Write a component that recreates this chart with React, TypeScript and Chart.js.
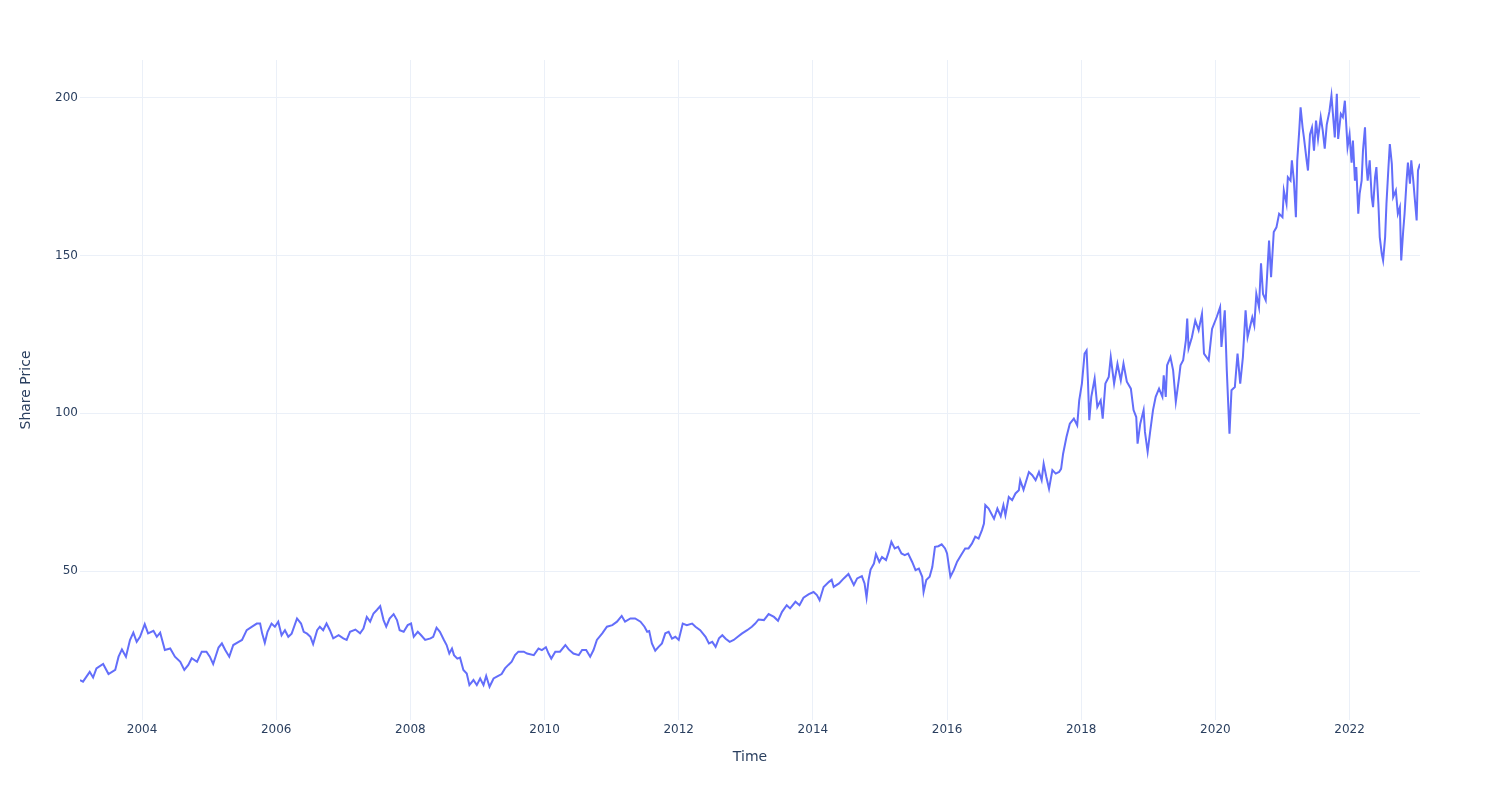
import React, { useEffect, useRef } from "react";
import { Chart, registerables } from "chart.js";

Chart.register(...registerables);

// Decimal-year dates
const years: number[] = [
  2003.075, 2003.12, 2003.22, 2003.27, 2003.32, 2003.42, 2003.50, 2003.60, 2003.65, 2003.70,
  2003.76, 2003.82, 2003.87, 2003.92, 2003.97, 2004.04, 2004.09, 2004.17, 2004.22, 2004.27,
  2004.34, 2004.42, 2004.49, 2004.57, 2004.63, 2004.69, 2004.74, 2004.82, 2004.89, 2004.96,
  2005.01, 2005.06, 2005.14, 2005.19, 2005.24, 2005.30, 2005.36, 2005.44, 2005.49, 2005.56,
  2005.64, 2005.71, 2005.76, 2005.79, 2005.83, 2005.87, 2005.93, 2005.98, 2006.03, 2006.08,
  2006.13, 2006.18, 2006.23, 2006.31, 2006.37,
  2006.41, 2006.46, 2006.51, 2006.55, 2006.61, 2006.65, 2006.70, 2006.75, 2006.80, 2006.85,
  2006.93, 2007.00, 2007.05, 2007.10, 2007.18, 2007.25, 2007.30, 2007.35, 2007.40, 2007.45,
  2007.50, 2007.55, 2007.60, 2007.64, 2007.69, 2007.75, 2007.80, 2007.84, 2007.90, 2007.96,
  2008.01, 2008.05, 2008.11, 2008.16, 2008.22, 2008.30, 2008.34, 2008.39, 2008.44, 2008.50,
  2008.54, 2008.58, 2008.62, 2008.65, 2008.70, 2008.74, 2008.79, 2008.84, 2008.88, 2008.94,
  2008.99, 2009.04, 2009.09, 2009.13, 2009.18, 2009.24, 2009.31, 2009.36, 2009.41, 2009.46,
  2009.51, 2009.56, 2009.61, 2009.69, 2009.74,
  2009.84, 2009.91, 2009.96, 2010.02, 2010.06, 2010.10, 2010.16, 2010.23, 2010.31, 2010.36,
  2010.43, 2010.51, 2010.56, 2010.62, 2010.68, 2010.73, 2010.78, 2010.86, 2010.93, 2011.01,
  2011.08, 2011.15, 2011.20, 2011.28, 2011.35, 2011.43, 2011.49, 2011.53, 2011.56, 2011.60,
  2011.65, 2011.70, 2011.75, 2011.80, 2011.85, 2011.90, 2011.95, 2012.00, 2012.06, 2012.12,
  2012.20, 2012.25, 2012.32, 2012.40, 2012.45, 2012.50, 2012.55, 2012.60, 2012.65, 2012.70,
  2012.76, 2012.82, 2012.88, 2012.94, 2013.02, 2013.09, 2013.14,
  2013.19, 2013.27, 2013.34, 2013.42, 2013.48, 2013.54, 2013.61, 2013.66, 2013.74, 2013.80,
  2013.86, 2013.94, 2014.01, 2014.06, 2014.10, 2014.16, 2014.24, 2014.28, 2014.31, 2014.39,
  2014.46, 2014.53, 2014.61, 2014.66, 2014.73, 2014.77, 2014.80, 2014.83, 2014.86, 2014.91,
  2014.94, 2014.99, 2015.03, 2015.09, 2015.13, 2015.17, 2015.22, 2015.27, 2015.32, 2015.37,
  2015.42, 2015.48, 2015.53, 2015.58, 2015.63, 2015.65, 2015.69, 2015.74, 2015.78, 2015.82,
  2015.87, 2015.92, 2015.97, 2016.00, 2016.05, 2016.10, 2016.15, 2016.21, 2016.27, 2016.32,
  2016.37, 2016.42, 2016.47, 2016.52,
  2016.55, 2016.57, 2016.62, 2016.70, 2016.75, 2016.80, 2016.84, 2016.87, 2016.92, 2016.97,
  2017.02, 2017.07, 2017.09, 2017.14, 2017.22, 2017.27, 2017.32, 2017.37, 2017.41, 2017.44,
  2017.48, 2017.52, 2017.57, 2017.62, 2017.67, 2017.70, 2017.73, 2017.78, 2017.83, 2017.89,
  2017.94, 2017.97, 2018.01, 2018.05, 2018.08, 2018.10, 2018.12, 2018.15, 2018.20, 2018.24,
  2018.29, 2018.32, 2018.36, 2018.41, 2018.44, 2018.49, 2018.54, 2018.59, 2018.63, 2018.68,
  2018.74, 2018.78, 2018.82, 2018.84, 2018.88, 2018.93, 2018.95, 2018.99, 2019.03, 2019.07,
  2019.11, 2019.16, 2019.21, 2019.23, 2019.26, 2019.28, 2019.33, 2019.37, 2019.41, 2019.46,
  2019.48, 2019.52, 2019.56, 2019.58, 2019.60, 2019.65, 2019.70, 2019.75, 2019.80,
  2019.83, 2019.90, 2019.95, 2020.02, 2020.07, 2020.09, 2020.14, 2020.17, 2020.21, 2020.24,
  2020.29, 2020.33, 2020.37, 2020.41, 2020.45, 2020.48, 2020.55, 2020.58, 2020.61, 2020.65,
  2020.68, 2020.71, 2020.75, 2020.80, 2020.83, 2020.87, 2020.91, 2020.95, 2021.00, 2021.02,
  2021.06, 2021.08, 2021.12, 2021.14, 2021.17, 2021.20, 2021.22, 2021.25, 2021.27, 2021.30,
  2021.32, 2021.36, 2021.38, 2021.41, 2021.44, 2021.47, 2021.50, 2021.53, 2021.57, 2021.60,
  2021.63, 2021.66, 2021.70, 2021.73, 2021.76, 2021.78, 2021.81, 2021.83, 2021.87, 2021.90,
  2021.93, 2021.97, 2022.00, 2022.03, 2022.05, 2022.08, 2022.10, 2022.13, 2022.15, 2022.18,
  2022.20, 2022.23, 2022.25, 2022.27, 2022.30, 2022.33, 2022.35, 2022.38, 2022.40, 2022.43,
  2022.45, 2022.48, 2022.50, 2022.53, 2022.55, 2022.58, 2022.60, 2022.63, 2022.65, 2022.69,
  2022.72, 2022.75, 2022.77, 2022.80, 2022.82, 2022.85, 2022.87, 2022.90, 2022.92, 2022.95,
  2022.97, 2023.00, 2023.02, 2023.05,
];

// Share prices
const prices: number[] = [
  15.5, 15.0, 18.1, 16.3, 19.2, 20.6, 17.4, 18.7, 22.9, 25.2,
  22.9, 28.2, 30.5, 27.6, 29.2, 33.2, 30.3, 31.1, 29.2, 30.5,
  25.0, 25.5, 22.9, 21.3, 18.7, 20.3, 22.4, 21.3, 24.5, 24.5,
  22.9, 20.6, 25.8, 27.1, 25.0, 22.9, 26.6, 27.6, 28.2, 31.3,
  32.4, 33.4, 33.4, 30.3, 27.3, 30.8, 33.4, 32.4, 34.0, 29.7,
  31.3, 29.2, 30.2, 35.0, 33.4,
  30.8, 30.2, 29.2, 26.9, 31.3, 32.4, 31.3, 33.4, 31.3, 28.7,
  29.7, 28.7, 28.2, 30.8, 31.5, 30.3, 31.8, 35.5, 34.0, 36.6,
  37.7, 38.9, 34.5, 32.4, 35.0, 36.4, 34.5, 31.3, 30.8, 32.9,
  33.4, 29.2, 30.8, 29.7, 28.2, 28.7, 29.2, 32.1, 30.8, 28.2,
  26.6, 23.9, 25.5, 23.4, 22.3, 22.6, 18.7, 17.6, 13.9, 15.5,
  13.9, 16.0, 13.9, 16.8, 13.4, 16.0, 16.8, 17.4, 19.2, 20.3,
  21.3, 23.4, 24.5, 24.5, 23.9,
  23.4, 25.5, 25.0, 25.9, 23.9, 22.3, 24.5, 24.5, 26.6, 25.2,
  23.9, 23.4, 25.0, 25.0, 22.9, 25.0, 28.2, 30.3, 32.4, 32.9,
  34.0, 35.8, 34.0, 35.0, 35.0, 34.0, 32.4, 30.8, 31.0, 27.1,
  24.8, 26.0, 27.1, 30.3, 30.8, 28.6, 29.2, 28.2, 33.4, 32.9,
  33.4, 32.4, 31.3, 29.2, 27.1, 27.6, 26.0, 28.7, 29.7, 28.6,
  27.6, 28.2, 29.2, 30.2, 31.3, 32.4, 33.4,
  34.7, 34.5, 36.4, 35.5, 34.3, 37.1, 39.2, 38.2, 40.3, 39.2,
  41.6, 42.7, 43.4, 42.4, 40.8, 45.0, 46.6, 47.3, 45.0, 46.1,
  47.7, 49.1, 45.6, 47.7, 48.4, 46.1, 41.6, 47.2, 50.5, 52.4,
  55.4, 52.9, 54.5, 53.5, 56.1, 59.3, 57.2, 57.7, 55.6, 55.1,
  55.6, 52.9, 50.3, 50.8, 48.2, 43.4, 47.2, 48.2, 51.3, 57.7,
  57.9, 58.5, 57.2, 55.6, 48.2, 50.3, 53.0, 55.1, 57.2, 57.2,
  58.7, 60.9, 60.3, 63.0,
  65.1, 70.9, 69.8, 66.6, 69.8, 67.4, 70.9, 67.7, 73.5, 72.5,
  74.6, 75.6, 78.8, 75.8, 81.4, 80.4, 78.8, 81.4, 78.8, 84.0,
  79.8, 76.1, 82.0, 80.9, 81.4, 82.4, 87.2, 92.5, 96.7, 98.3,
  96.2, 104.1, 109.4, 118.9, 119.9, 110.4, 97.8, 105.2, 111.0, 102.0,
  104.1, 98.3, 109.4, 111.5, 117.8, 109.4, 115.7, 110.4, 115.7, 110.0,
  107.8, 101.0, 98.8, 90.4, 96.7, 101.0, 94.1, 87.8, 94.6, 101.0,
  105.2, 107.8, 105.2, 112.0, 105.2, 115.2, 117.8, 113.6, 103.6, 111.5,
  115.2, 116.8, 123.1, 130.0, 120.5, 124.1, 129.4, 126.3, 131.5,
  118.9, 116.8, 126.7, 130.5, 133.6, 121.0, 132.6, 113.6, 93.5, 107.3,
  108.3, 118.9, 109.4, 117.8, 132.6, 124.1, 130.4, 127.8, 137.8, 133.6,
  147.5, 137.8, 135.8, 154.7, 143.1, 157.4, 158.9, 163.2, 162.1, 170.6,
  166.4, 174.8, 173.7, 180.1, 173.7, 162.1, 180.1, 189.6, 196.9, 190.5,
  187.3, 180.1, 176.9, 188.3, 190.5, 183.2, 192.7, 186.9, 193.8, 189.6,
  183.8, 191.4, 195.6, 200.6, 192.7, 187.4, 201.2, 186.9, 194.8, 193.8,
  199.0, 184.3, 188.3, 179.4, 186.4, 173.7, 178.0, 163.2, 169.5, 173.7,
  183.2, 190.6, 179.0, 173.7, 180.1, 168.5, 165.3, 174.8, 178.0, 166.3,
  155.8, 150.5, 148.4, 155.8, 166.4, 178.0, 185.3, 179.0, 168.5, 170.6,
  163.2, 165.3, 148.4, 157.9, 163.2, 173.7, 179.4, 172.7, 180.1, 173.7,
  168.5, 161.1, 176.9, 179.0,
];

const xTicks: number[] = [2004, 2006, 2008, 2010, 2012, 2014, 2016, 2018, 2020, 2022];
const yTicks: number[] = [50, 100, 150, 200];
const yMin = 2.85;
const yMax = 211.9;

const xTitle = "Time";
const yTitle = "Share Price";

const FONT = "'DejaVu Sans', Verdana, sans-serif";
const TEXT = "#2a3f5f";
const GRID = "#EBF0F8";
const LINE = "#636efa";

export default function App() {
  const ref = useRef<HTMLCanvasElement | null>(null);

  useEffect(() => {
    if (!ref.current) return;
    const points = years.map((x, i) => ({ x, y: prices[i] }));
    const chart = new Chart(ref.current, {
      type: "line",
      data: {
        datasets: [
          {
            data: points,
            borderColor: LINE,
            backgroundColor: LINE,
            borderWidth: 2,
            pointRadius: 0,
            tension: 0,
            fill: false,
          },
        ],
      },
      options: {
        animation: false,
        responsive: false,
        maintainAspectRatio: false,
        layout: { padding: { left: 0, right: 80, top: 60, bottom: 0 } },
        plugins: { legend: { display: false }, tooltip: { enabled: false } },
        scales: {
          x: {
            type: "linear",
            min: years[0],
            max: years[years.length - 1],
            afterBuildTicks: (s: any) => {
              s.ticks = xTicks.map((v) => ({ value: v }));
            },
            afterFit: (s: any) => {
              s.height = 80;
            },
            grid: { color: GRID, lineWidth: 1, drawTicks: false },
            border: { display: false },
            ticks: {
              color: TEXT,
              font: { family: FONT, size: 12 },
              padding: 3,
              maxRotation: 0,
              autoSkip: false,
              callback: (v: any) => String(v),
            },
            title: {
              display: true,
              text: xTitle,
              color: TEXT,
              font: { family: FONT, size: 14 },
              padding: { top: 0, bottom: 34 },
            },
          },
          y: {
            type: "linear",
            min: yMin,
            max: yMax,
            afterBuildTicks: (s: any) => {
              s.ticks = yTicks.map((v) => ({ value: v }));
            },
            afterFit: (s: any) => {
              s.width = 80;
            },
            grid: { color: GRID, lineWidth: 1, drawTicks: false },
            border: { display: false },
            ticks: {
              color: TEXT,
              font: { family: FONT, size: 12 },
              padding: 2,
              callback: (v: any) => String(v),
            },
            title: {
              display: true,
              text: yTitle,
              color: TEXT,
              font: { family: FONT, size: 14 },
              padding: { top: 18, bottom: 0 },
            },
          },
        },
      },
    });
    return () => chart.destroy();
  }, []);

  return (
    <div
      style={{
        position: "fixed",
        left: 0,
        top: 0,
        width: 1500,
        height: 800,
        background: "#fff",
      }}
    >
      <canvas ref={ref} width={1500} height={800} />
    </div>
  );
}
